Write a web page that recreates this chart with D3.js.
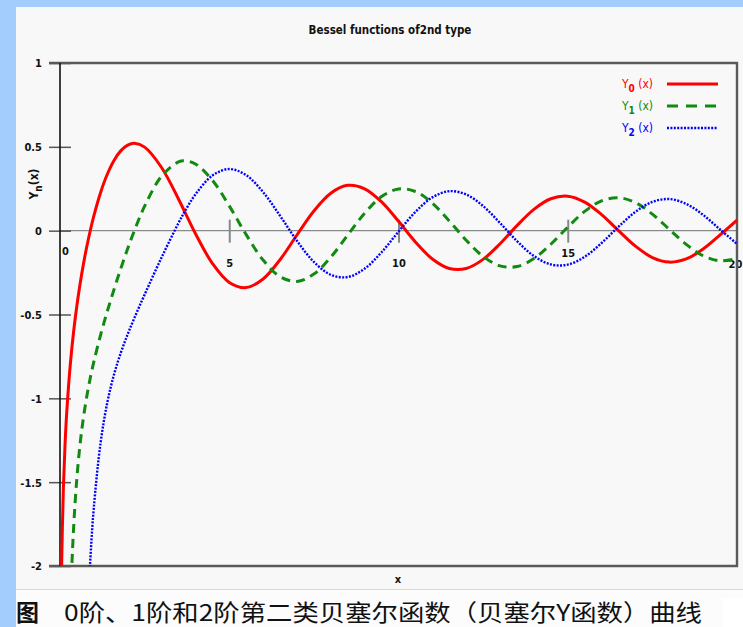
<!DOCTYPE html>
<html>
<head>
<meta charset="utf-8">
<script src="https://cdn.jsdelivr.net/npm/d3@7"></script>
<style>
  html, body { margin: 0; padding: 0; background: #a3cdfd; }
  svg { display: block; }
  .tick-label { font-family: "Liberation Sans Narrow", "DejaVu Sans Condensed", "Liberation Sans", sans-serif; font-weight: bold; font-size: 11px; fill: #111; }
</style>
</head>
<body>
<svg id="chart" width="743" height="627"></svg>
<script>
// Sample abscissae shared by all three curves
const xs = [0.03, 0.05, 0.1, 0.15, 0.2, 0.3, 0.4, 0.5, 0.6, 0.7, 0.8, 0.9, 1.0,
  1.2, 1.4, 1.6, 1.8, 2.0, 2.2, 2.5, 3.0, 3.5, 3.7, 4.0, 4.5, 5.0, 5.5, 6.0,
  6.5, 7.0, 7.5, 8.0, 8.5, 9.0, 9.5, 10.0, 10.5, 11.0, 11.5, 12.0, 12.5, 13.0,
  13.5, 14.0, 14.5, 15.0, 15.5, 16.0, 16.5, 17.0, 17.5, 18.0, 18.5, 19.0, 19.5, 20.0];

// Y0(x)
const y0 = [-2.3062, -1.9793, -1.5342, -1.2708, -1.0811, -0.8073, -0.6060, -0.4445,
  -0.3085, -0.1907, -0.0868, 0.0056, 0.0883, 0.2281, 0.3379, 0.4204, 0.4774,
  0.5104, 0.5208, 0.4981, 0.3769, 0.1890, 0.1061, -0.0169, -0.1947, -0.3085,
  -0.3394, -0.2882, -0.1732, -0.0259, 0.1173, 0.2235, 0.2702, 0.2499, 0.1712,
  0.0557, -0.0675, -0.1688, -0.2252, -0.2252, -0.1712, -0.0782, 0.0301, 0.1272,
  0.1903, 0.2055, 0.1706, 0.0958, 0.0002, -0.0926, -0.1604, -0.1876, -0.1687,
  -0.1095, -0.0255, 0.0626];

// Y1(x)
const y1 = [null, null, null, null, -3.3238, -2.2931, -1.7809, -1.4715, -1.2604,
  -1.1033, -0.9781, -0.8731, -0.7812, -0.6211, -0.4791, -0.3476, -0.2239,
  -0.1070, 0.0015, 0.1459, 0.3247, 0.4102, 0.4166, 0.3979, 0.3010, 0.1479,
  -0.0237, -0.1750, -0.2741, -0.3027, -0.2591, -0.1581, -0.0262, 0.1043, 0.2032,
  0.2490, 0.2337, 0.1637, 0.0579, -0.0571, -0.1538, -0.2101, -0.2140, -0.1666,
  -0.0810, 0.0211, 0.1148, 0.1780, 0.1965, 0.1672, 0.0986, 0.0082, -0.0817,
  -0.1496, -0.1796, -0.1655];

// Y2(x)
const y2 = [null, null, null, null, null, null, null, null, null, -2.9615, -2.3586,
  -1.9459, -1.6507, -1.2633, -1.0224, -0.8549, -0.7262, -0.6174, -0.5194,
  -0.3813, -0.1604, 0.0454, 0.1191, 0.2159, 0.3285, 0.3677, 0.3308, 0.2299,
  0.0889, -0.0605, -0.1864, -0.2630, -0.2764, -0.2267, -0.1284, -0.0059, 0.1120,
  0.1986, 0.2353, 0.2157, 0.1466, 0.0459, -0.0618, -0.1510, -0.2015, -0.2027,
  -0.1558, -0.0736, 0.0236, 0.1123, 0.1717, 0.1885, 0.1598, 0.0938, 0.0070,
  -0.0792];

const seriesNames = ["0", "1", "2"];
const seriesValues = [y0, y1, y2];
const seriesColors = ["#ff0000", "#108a10", "#0000ff"];

const xTicks = [0, 5, 10, 15, 20];
const yTicks = [1, 0.5, 0, -0.5, -1, -1.5, -2];

const titleText = "Bessel functions of2nd type";
const captionHead = "图";
const captionText = "0阶、1阶和2阶第二类贝塞尔函数（贝塞尔Y函数）曲线";

const svg = d3.select("#chart");
const W = 743, H = 627;

// panel and caption backgrounds
svg.append("rect").attr("x", 16).attr("y", 7).attr("width", W - 16).attr("height", 582).attr("fill", "#f8f8f8");
svg.append("rect").attr("x", 16).attr("y", 589).attr("width", W - 16).attr("height", H - 589).attr("fill", "#fcfcfc");
svg.append("line").attr("x1", 16).attr("x2", W).attr("y1", 589.5).attr("y2", 589.5).attr("stroke", "#d8d8d8");
svg.append("rect").attr("x", 722).attr("y", 598).attr("width", W - 722).attr("height", H - 598).attr("fill", "#ffffff");

const plot = { left: 60, right: 737, top: 63, bottom: 566 };
const x = d3.scaleLinear().domain([0, 20]).range([plot.left, plot.right]);
const y = d3.scaleLinear().domain([-2, 1]).range([plot.bottom, plot.top]);

const fontNarrow = '"Liberation Sans Narrow", "DejaVu Sans Condensed", "Liberation Sans", sans-serif';

// title
svg.append("text").attr("x", 390).attr("y", 34).attr("text-anchor", "middle")
  .attr("font-family", fontNarrow).attr("font-weight", "bold").attr("font-size", 11.5)
  .attr("fill", "#111").text(titleText);

// zero line
svg.append("line").attr("x1", plot.left).attr("x2", plot.right)
  .attr("y1", y(0)).attr("y2", y(0)).attr("stroke", "#8a8a8a").attr("stroke-width", 1.2);

// y axis ticks (crossing the left axis) and labels
const yAxis = d3.axisLeft(y).tickValues(yTicks).tickSize(0).tickFormat(d => String(d));
const gy = svg.append("g").attr("transform", `translate(${plot.left},0)`).call(yAxis);
gy.select(".domain").remove();
gy.selectAll(".tick line").remove();
gy.selectAll(".tick").append("line")
  .attr("x1", -11).attr("x2", 11).attr("stroke", "#555").attr("stroke-width", 1.5);
gy.selectAll(".tick text").attr("class", "tick-label").attr("x", -18).attr("dy", "0.35em");

// x axis ticks drawn on the zero line
const xLabelDy = { 0: 24, 5: 36, 10: 36, 15: 26, 20: 37 };
const xAxis = d3.axisBottom(x).tickValues(xTicks).tickSize(0).tickFormat(d => String(d));
const gx = svg.append("g").attr("transform", `translate(0,${y(0)})`).call(xAxis);
gx.select(".domain").remove();
gx.selectAll(".tick line").remove();
gx.selectAll(".tick").filter(d => d > 0 && d < 20).append("line")
  .attr("y1", -11).attr("y2", 12).attr("stroke", "#888").attr("stroke-width", 2);
gx.selectAll(".tick text").attr("class", "tick-label")
  .attr("y", d => xLabelDy[d]).attr("dy", 0)
  .attr("x", d => d === 0 ? 5 : (d === 20 ? -2 : 0));

// frame
svg.append("path")
  .attr("d", `M${plot.left - 11},${plot.top}H${plot.right}V${plot.bottom}H${plot.left - 11}`)
  .attr("fill", "none").attr("stroke", "#5a5a5a").attr("stroke-width", 2.4);
svg.append("line").attr("x1", plot.left).attr("x2", plot.left)
  .attr("y1", plot.top).attr("y2", plot.bottom).attr("stroke", "#111").attr("stroke-width", 1.6);

// axis titles
svg.append("text").attr("x", 398).attr("y", 583).attr("text-anchor", "middle")
  .attr("font-family", fontNarrow).attr("font-weight", "bold").attr("font-size", 11).attr("fill", "#111").text("x");
const yl = svg.append("text").attr("transform", `translate(38,184) rotate(-90)`).attr("text-anchor", "middle")
  .attr("font-family", fontNarrow).attr("font-weight", "bold").attr("font-size", 12).attr("fill", "#111");
yl.append("tspan").text("Y");
yl.append("tspan").attr("font-size", 10).attr("dy", 4).text("n");
yl.append("tspan").attr("dy", -4).text("(x)");

// curves
svg.append("clipPath").attr("id", "plotClip").append("rect")
  .attr("x", plot.left).attr("y", plot.top).attr("width", plot.right - plot.left).attr("height", plot.bottom - plot.top);

const dashes = [null, "9,6", "2,1.4"];
const widths = [3, 3, 2.4];
const line = d3.line()
  .defined(d => d[1] !== null)
  .x(d => x(d[0])).y(d => y(d[1]))
  .curve(d3.curveCatmullRom.alpha(0.5));

const gCurves = svg.append("g").attr("clip-path", "url(#plotClip)");
seriesValues.forEach((vals, i) => {
  gCurves.append("path")
    .datum(xs.map((xv, k) => [xv, vals[k]]))
    .attr("d", line)
    .attr("fill", "none")
    .attr("stroke", seriesColors[i])
    .attr("stroke-width", widths[i])
    .attr("stroke-dasharray", dashes[i]);
});

// legend
const legendY = [84, 106, 128];
seriesNames.forEach((n, i) => {
  const t = svg.append("text").attr("x", 653).attr("y", legendY[i] + 4).attr("text-anchor", "end")
    .attr("font-family", fontNarrow).attr("font-size", 12).attr("fill", seriesColors[i]);
  t.append("tspan").text("Y");
  t.append("tspan").attr("font-size", 10).attr("font-weight", "bold").attr("dy", 4).text(n);
  t.append("tspan").attr("dy", -4).text(" (x)");
  svg.append("line").attr("x1", 667).attr("x2", 718).attr("y1", legendY[i]).attr("y2", legendY[i])
    .attr("stroke", seriesColors[i]).attr("stroke-width", widths[i])
    .attr("stroke-dasharray", i === 1 ? "11,8" : dashes[i]);
});

// caption
svg.append("text").attr("x", 16).attr("y", 621)
  .attr("font-family", '"Noto Sans CJK SC", sans-serif').attr("font-weight", "bold").attr("font-size", 23)
  .attr("fill", "#111").text(captionHead);
svg.append("text").attr("x", 64).attr("y", 621)
  .attr("font-family", '"Noto Sans CJK SC", sans-serif').attr("font-size", 23)
  .attr("textLength", 638).attr("lengthAdjust", "spacingAndGlyphs")
  .attr("fill", "#111").text(captionText);
</script>
</body>
</html>
